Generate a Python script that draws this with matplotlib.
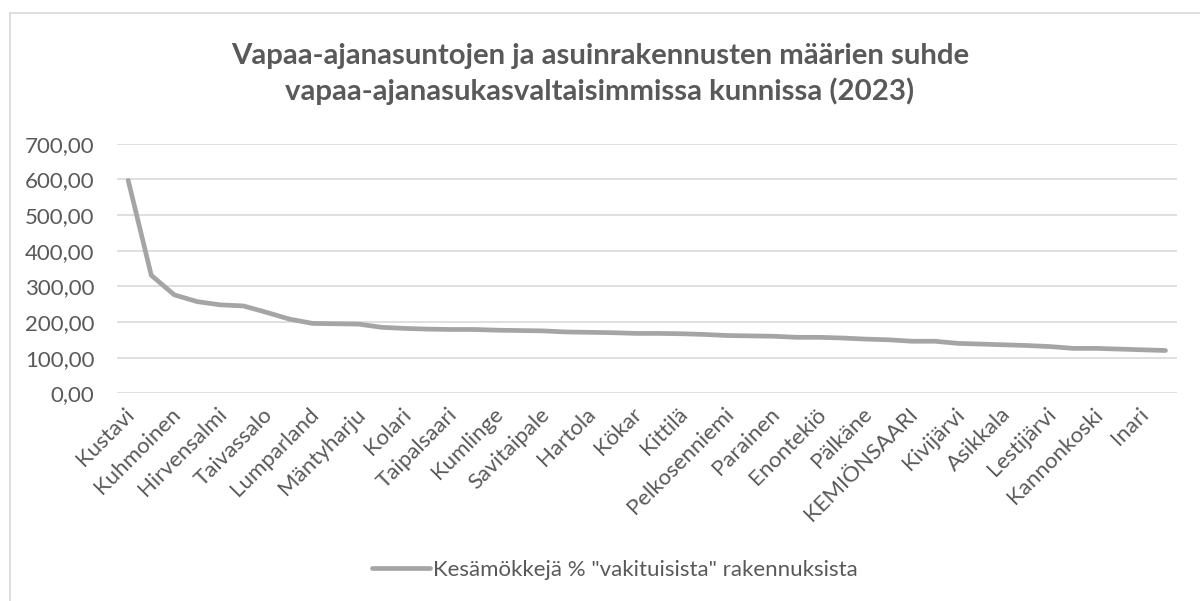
import matplotlib
matplotlib.use("Agg")
import matplotlib.pyplot as plt
from matplotlib.ticker import FuncFormatter, FixedLocator
from matplotlib.lines import Line2D
import matplotlib.transforms as mtransforms

# ---- data ----
values = [597, 331, 276, 257, 248, 245, 227, 208, 196, 195, 194, 185, 182, 180,
          179, 179, 177, 176, 175, 172, 171, 170, 168, 168, 167, 165, 162, 161,
          160, 157, 157, 155, 152, 150, 146, 146, 140, 138, 136, 134, 131, 126,
          126, 124, 122, 120]
shown_labels = ["Kustavi", "Kuhmoinen", "Hirvensalmi", "Taivassalo", "Lumparland",
                "Mäntyharju", "Kolari", "Taipalsaari", "Kumlinge", "Savitaipale",
                "Hartola", "Kökar", "Kittilä", "Pelkosenniemi", "Parainen",
                "Enontekiö", "Pälkäne", "KEMIÖNSAARI", "Kivijärvi", "Asikkala",
                "Lestijärvi", "Kannonkoski", "Inari"]
series_name = 'Kesämökkejä % "vakituisista" rakennuksista'
title = ("Vapaa-ajanasuntojen ja asuinrakennusten määrien suhde\n"
         "vapaa-ajanasukasvaltaisimmissa kunnissa (2023)")
yticks = [0, 100, 200, 300, 400, 500, 600, 700]

TEXT = "#595959"
GRID = "#d9d9d9"
LINE = "#a5a5a5"
FONT = "Lato"

plt.rcParams["font.family"] = [FONT, "DejaVu Sans"]

W, H = 1200, 601
fig = plt.figure(figsize=(W / 100, H / 100), dpi=100)
fig.patch.set_facecolor("white")

# chart border (left and top visible)
fig.add_artist(Line2D([10 / W, 10 / W], [1 - 13 / H, 0], transform=fig.transFigure,
                      color=GRID, lw=1.2))
fig.add_artist(Line2D([10 / W, 1], [1 - 13 / H, 1 - 13 / H], transform=fig.transFigure,
                      color=GRID, lw=1.2))

left, right = 116.7, 1177
top, bottom = 143.7, 393.3
ax = fig.add_axes([left / W, 1 - bottom / H, (right - left) / W, (bottom - top) / H])

x = list(range(len(values)))
ax.plot(x, values, color=LINE, lw=3.4, solid_capstyle="round", solid_joinstyle="round",
        label=series_name, zorder=3)

ax.set_xlim(-0.5, len(values) - 0.5)
ax.set_ylim(0, 700)
ax.set_yticks(yticks)
ax.yaxis.set_major_formatter(FuncFormatter(lambda v, p: f"{v:.2f}".replace(".", ",")))
ax.grid(axis="y", color=GRID, lw=1.2)
ax.set_axisbelow(True)
for s in ax.spines.values():
    s.set_visible(False)
ax.tick_params(axis="both", length=0, colors=TEXT, labelsize=16)
ax.tick_params(axis="y", pad=16)

ax.xaxis.set_major_locator(FixedLocator(list(range(0, len(values), 2))))
ax.set_xticklabels(shown_labels, rotation=45, ha="right", rotation_mode="anchor")
offset = mtransforms.ScaledTranslation(-4 / 100, -6 / 100, fig.dpi_scale_trans)
for lab in ax.get_xticklabels():
    lab.set_transform(lab.get_transform() + offset)

fig.text(0.5, 1 - 74 / H, title, ha="center", va="center", fontsize=21.2,
         fontweight="bold", color=TEXT, linespacing=1.4)

leg = fig.legend(handles=ax.get_lines(), labels=[series_name], loc="center",
                 bbox_to_anchor=(615 / W, 1 - 570 / H), frameon=False,
                 fontsize=16, handlelength=2.6, handletextpad=0.15,
                 labelcolor=TEXT)

fig.savefig("out.png", dpi=100, facecolor="white")
